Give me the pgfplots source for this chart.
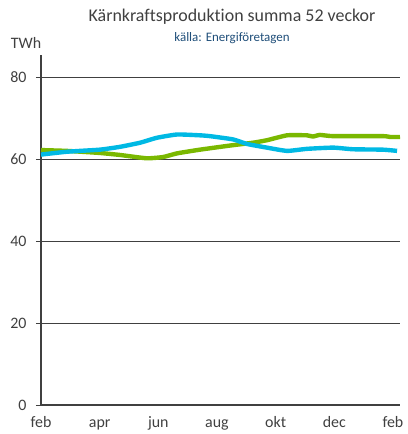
\documentclass[border=0pt]{standalone}
\usepackage{fontspec}
\setmainfont{Carlito}[Ligatures={NoCommon}]
\usepackage{pgfplots}
\pgfplotsset{compat=1.18}
\definecolor{axgray}{RGB}{64,64,64}
\definecolor{kgreen}{RGB}{122,184,0}
\definecolor{kcyan}{RGB}{0,185,228}
\definecolor{subblue}{RGB}{31,78,121}
\begin{document}
\begin{tikzpicture}
\path[use as bounding box] (-41bp,-29bp) rectangle (367bp,405bp);
\begin{axis}[
  at={(0,0)}, anchor=south west,
  scale only axis, width=359bp, height=350bp,
  xmin=0, xmax=12.24, ymin=0, ymax=85.4,
  axis x line*=bottom, axis y line*=left,
  axis line style={axgray, line width=1.6pt, -},
  xtick={0,2,...,12},
  xticklabels={feb,apr,jun,aug,okt,dec,feb},
  ytick={0,20,40,60,80},
  xtick style={draw=none},
  ytick style={axgray, line width=0.8pt},
  major tick length=5bp,
  tick align=outside,
  ymajorgrids,
  grid style={axgray, line width=0.8pt},
  tick label style={font=\fontsize{16}{18}\selectfont, text=axgray},
  xticklabel style={anchor=base, yshift=-17bp},
  yticklabel style={xshift=-6bp},
  /pgf/number format/assume math mode=true,
  clip=false,
]
\addplot[kgreen, line width=4.4pt, line join=round, smooth, tension=0.3] coordinates {
  (0,62.2) (0.89,62.0) (2.0,61.5) (2.7,61.0) (3.6,60.2) (4.16,60.5)
  (4.64,61.4) (5.42,62.3) (6.44,63.3) (7.23,64.0) (7.7,64.6) (8.39,65.8)
  (9.07,65.8) (9.27,65.5) (9.51,65.9) (9.96,65.6) (11.66,65.6) (11.9,65.4) (12.24,65.4)
};
\addplot[kcyan, line width=4.4pt, line join=round, smooth, tension=0.3] coordinates {
  (0,61.1) (0.89,61.8) (2.0,62.3) (2.7,63.0) (3.38,64.0) (3.95,65.2)
  (4.64,66.0) (5.42,65.8) (5.76,65.6) (6.55,64.8) (7.02,63.7) (7.7,62.8)
  (8.39,62.0) (9.07,62.5) (9.96,62.8) (10.64,62.4) (11.66,62.3) (12.14,62.0)
};
\end{axis}
\node[text=axgray, font=\fontsize{18}{20}\selectfont] at (191bp,388bp) {Kärnkraftsproduktion summa 52 veckor};
\node[text=subblue, font=\fontsize{13}{15}\selectfont] at (191bp,367bp) {källa: Energiföretagen};
\node[text=axgray, font=\fontsize{16}{18}\selectfont] at (-15bp,362bp) {TWh};
\end{tikzpicture}
\end{document}
